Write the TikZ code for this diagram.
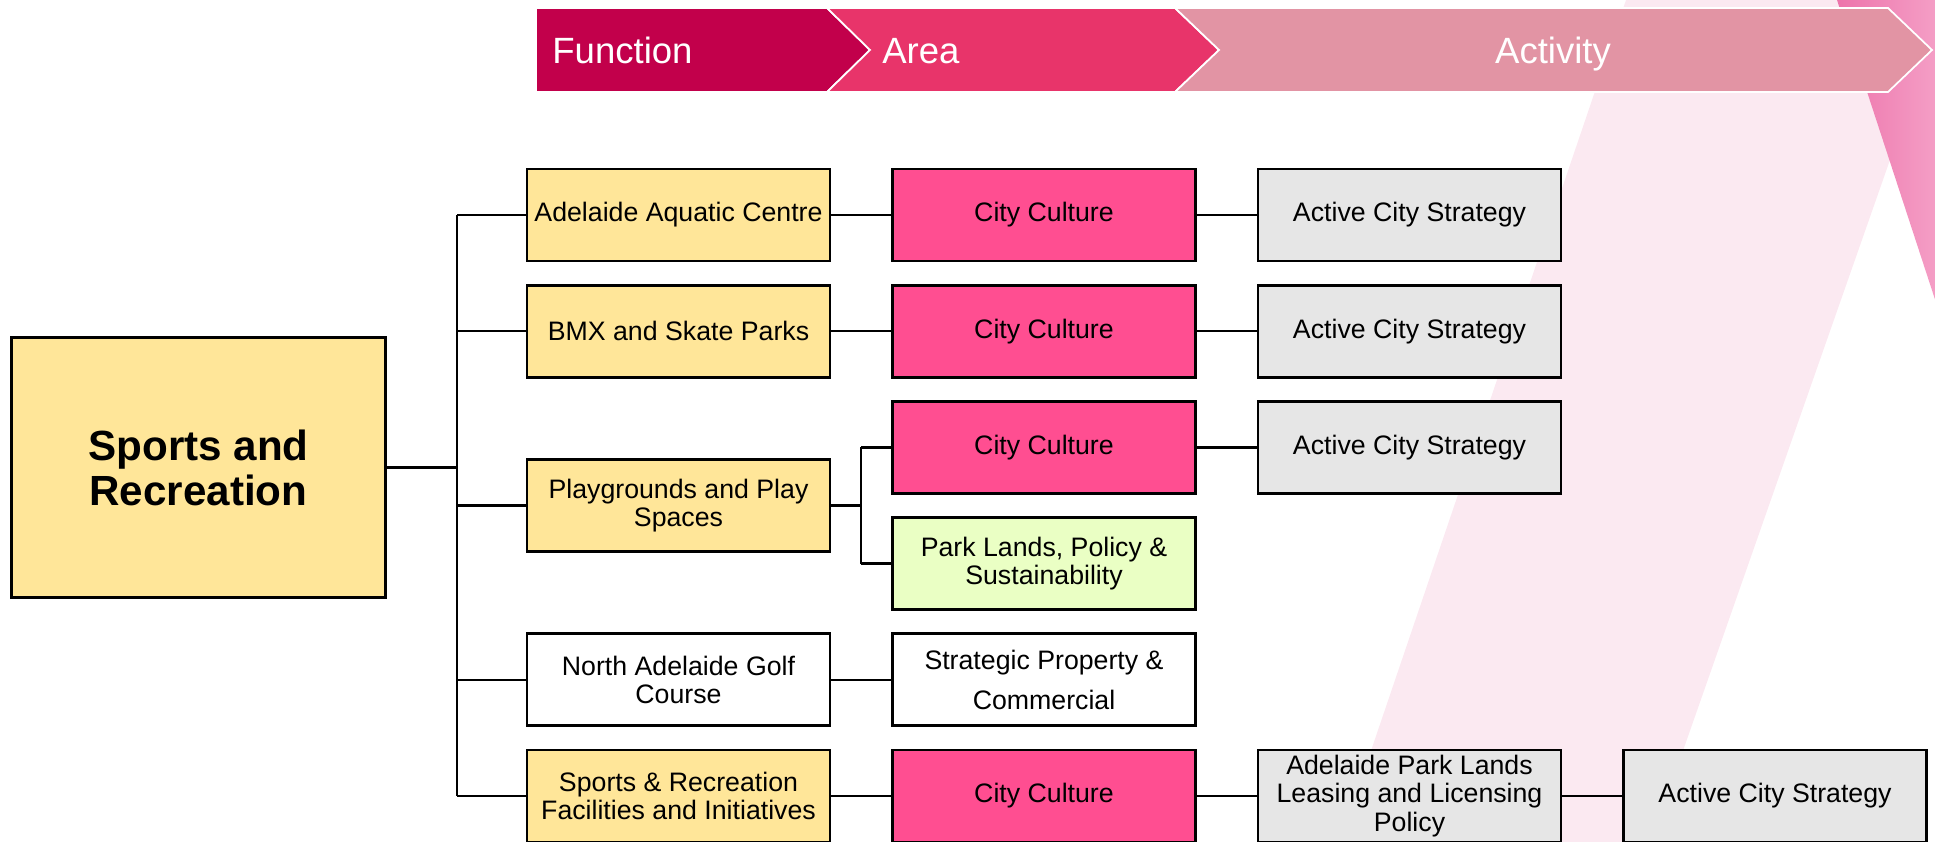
\documentclass[tikz,border=0pt]{standalone}
\usepackage{fontspec}
\setmainfont{Liberation Sans}
\usepackage{xcolor}
\definecolor{HdrFunction}{RGB}{194,0,75}
\definecolor{HdrArea}{RGB}{232,52,106}
\definecolor{HdrActivity}{RGB}{226,148,164}
\definecolor{BoxYellow}{RGB}{255,230,153}
\definecolor{BoxPink}{RGB}{255,78,145}
\definecolor{BoxGreen}{RGB}{234,255,196}
\definecolor{BoxGrey}{RGB}{230,230,230}
\definecolor{BandPale}{RGB}{251,233,241}
\definecolor{BandDeep}{RGB}{237,116,171}
\definecolor{BandSoft}{RGB}{245,162,200}
\usetikzlibrary{positioning}
\usetikzlibrary{calc}

\begin{document}
\begin{tikzpicture}[
      , box/.style={draw, line width=1.5pt, minimum width=6.06cm, minimum height=1.84cm, inner sep=1pt, align=center, font=\fontsize{15.2}{16.2}\selectfont}
      , root-box/.style={draw, line width=1.5pt, minimum width=7.48cm, minimum height=5.2cm, align=center, font=\fontsize{24}{25.6}\selectfont\bfseries}
      , b-yellow/.style={fill=BoxYellow}
      , b-pink/.style={fill=BoxPink}
      , b-green/.style={fill=BoxGreen}
      , b-grey/.style={fill=BoxGrey}
      , b-white/.style={fill=white}
      , hdr/.style={draw=white, line width=1pt}
      , hdr-text/.style={text=white, inner sep=0pt, text height=15pt, text depth=0pt, font=\fontsize{20.8}{24}\selectfont}
      , link/.style={line width=1.3pt}
      , on grid
      , node distance=2.324cm and 7.31cm
      ]

      \useasboundingbox (0,0) rectangle (38.7,-16.84);

      \fill[BandPale] (32.52,0) -- (38.92,0) -- (33.02,-16.84) -- (26.80,-16.84) -- cycle;
      \shade[left color=BandDeep, right color=BandSoft] (36.74,0) -- (38.9,0) -- (38.9,-6.6) -- cycle;

      \draw[hdr, fill=HdrFunction] (10.72,-0.16) -- (16.54,-0.16) -- (17.40,-1.0) -- (16.54,-1.84) -- (10.72,-1.84) -- cycle;
      \draw[hdr, fill=HdrArea] (16.54,-0.16) -- (23.50,-0.16) -- (24.38,-1.0) -- (23.50,-1.84) -- (16.54,-1.84) -- (17.40,-1.0) -- cycle;
      \draw[hdr, fill=HdrActivity] (23.50,-0.16) -- (37.76,-0.16) -- (38.64,-1.0) -- (37.76,-1.84) -- (23.50,-1.84) -- (24.38,-1.0) -- cycle;
      \node[hdr-text, anchor=west] (hdr-function) at (11.04,-1.0) {Function};
      \node[hdr-text, anchor=west] (hdr-area) at (17.64,-1.0) {Area};
      \node[hdr-text] (hdr-activity) at (31.06,-1.0) {Activity};

      \node[root-box, b-yellow] (sports) at (3.97,-9.35) {Sports and\\Recreation};

      \node[box, b-yellow] (aquatic) at (13.57,-4.30) {Adelaide Aquatic Centre};
      \node[box, b-yellow, below = of aquatic] (bmx) {BMX and Skate Parks};

      \node[box, b-pink, right = of aquatic] (cc1) {City Culture};
      \node[box, b-pink, below = of cc1] (cc2) {City Culture};
      \node[box, b-pink, below = of cc2] (cc3) {City Culture};
      \node[box, b-green, below = of cc3] (parks) {Park Lands, Policy \&\\Sustainability};
      \node[box, b-white, below = of parks] (property) {Strategic Property \&\\[6.8pt]Commercial};
      \node[box, b-pink, below = of property] (cc5) {City Culture};

      \coordinate (play-middle) at ($ (cc3)!0.5!(parks) $);
      \node[box, b-yellow] (play) at (aquatic |- play-middle) {Playgrounds and Play\\Spaces};
      \node[box, b-white, left = of property] (golf) {North Adelaide Golf\\Course};
      \node[box, b-yellow, left = of cc5] (facil) {Sports \& Recreation\\Facilities and Initiatives};

      \node[box, b-grey, right = of cc1] (acs1) {Active City Strategy};
      \node[box, b-grey, right = of cc2] (acs2) {Active City Strategy};
      \node[box, b-grey, right = of cc3] (acs3) {Active City Strategy};
      \node[box, b-grey, right = of cc5] (leasing) {Adelaide Park Lands\\Leasing and Licensing\\Policy};
      \node[box, b-grey, right = of leasing] (acs5) {Active City Strategy};

      \coordinate (trunk) at (9.14,0);
      \coordinate (fork) at (17.22,0);

      \draw[link] (sports.east) -- (trunk |- sports.east);
      \draw[link] (trunk |- aquatic) -- (trunk |- facil);
      \foreach \fn in {aquatic, bmx, play, golf, facil}
        \draw[link] (trunk |- \fn) -- (\fn.west);

      \draw[link] (aquatic) -- (cc1);
      \draw[link] (bmx) -- (cc2);
      \draw[link] (play.east) -- (fork |- play);
      \draw[link] (fork |- cc3) -- (fork |- parks);
      \draw[link] (fork |- cc3) -- (cc3.west);
      \draw[link] (fork |- parks) -- (parks.west);
      \draw[link] (golf) -- (property);
      \draw[link] (facil) -- (cc5);

      \draw[link] (cc1) -- (acs1);
      \draw[link] (cc2) -- (acs2);
      \draw[link] (cc3) -- (acs3);
      \draw[link] (cc5) -- (leasing);
      \draw[link] (leasing) -- (acs5);
    \end{tikzpicture}
\end{document}
